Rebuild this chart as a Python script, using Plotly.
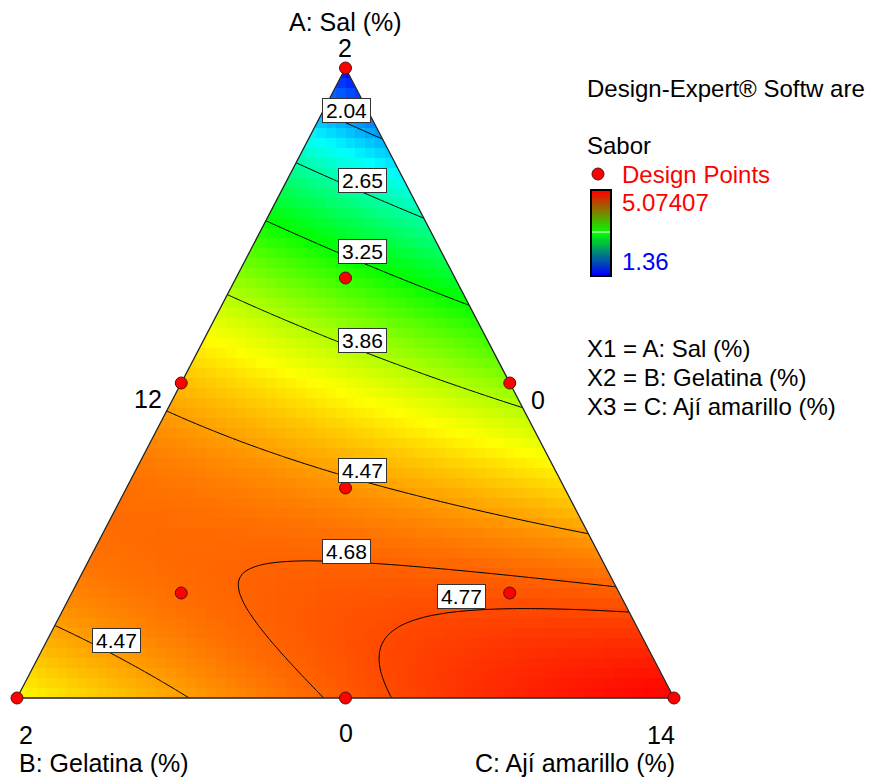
import numpy as np
import plotly.graph_objects as go

# ---------------------------------------------------------------------------
# Mixture design: Sal + Gelatina + Ají amarillo = 14 %
# ---------------------------------------------------------------------------
components = ["A: Sal (%)", "B: Gelatina (%)", "C: Ají amarillo (%)"]
comp_low = [0, 0, 12]
comp_high = [2, 2, 14]
mix_total = 14

# Design points (actual %)
design_A = [2, 0, 0, 1, 1, 0, 0.6667, 1.3333, 0.3333, 0.3333]
design_B = [0, 2, 0, 1, 0, 1, 0.6667, 0.3333, 1.3333, 0.3333]
design_C = [12, 12, 14, 12, 13, 13, 12.6667, 12.3333, 12.3333, 13.3333]

# Scheffé quadratic model for Sabor (L-pseudo components)
linear_coef = [1.44, 4.14, 5.03]   # A, B, C
inter_AB = 6.29
inter_AC = 1.95
inter_BC = 0.50

response_name = "Sabor"
response_range = [1.36, 5.07407]   # observed min / max

contour_levels = [2.04, 2.65, 3.25, 3.86, 4.47, 4.68, 4.77]
label_levels = [2.04, 2.65, 3.25, 3.86, 4.47, 4.68, 4.77, 4.47]
# label box centres (pixel position on the page)
label_px = [(346, 110), (362, 180), (362, 251), (362, 340), (362, 470),
            (346, 551), (461, 596), (116, 640)]

FONT = "Liberation Sans, Arial, sans-serif"
W, H = 879, 783
# triangle placement on the page (pixels): B at left, C at right, A at top
X0, XSPAN = 17.0, 657.0
Y0, YSPAN = 698.0, 630.0


def pseudo(a, b, c):
    span = mix_total - sum(comp_low)
    return ((np.asarray(a) - comp_low[0]) / span,
            (np.asarray(b) - comp_low[1]) / span,
            (np.asarray(c) - comp_low[2]) / span)


def to_xy(x1, x2, x3):
    x1 = np.asarray(x1, dtype=float)
    x3 = np.asarray(x3, dtype=float)
    return x3 + x1 / 2.0, x1


def from_xy(X, Y):
    x1 = Y
    x3 = X - Y / 2.0
    return x1, 1.0 - x1 - x3, x3


def model(x1, x2, x3):
    b1, b2, b3 = linear_coef
    return (b1 * x1 + b2 * x2 + b3 * x3 + inter_AB * x1 * x2
            + inter_AC * x1 * x3 + inter_BC * x2 * x3)


def px(xp, yp):
    return (xp - X0) / XSPAN, (Y0 - yp) / YSPAN


# colour range = predicted range over the simplex
gx, gy = np.meshgrid(np.linspace(0, 1, 201), np.linspace(0, 1, 201))
g1, g2, g3 = from_xy(gx, gy)
inside = np.minimum(np.minimum(g1, g2), g3) >= -1e-9
zin = model(g1, g2, g3)[inside]
zmin, zmax = float(zin.min()), float(zin.max())

de_scale = [[0.0, "#0000ff"], [0.25, "#00ffff"], [0.5, "#00ff00"],
            [0.75, "#ffff00"], [1.0, "#ff0000"]]

fig = go.Figure()

# coarse coloured cells
nx, ny = 66, 63
xc = np.round((np.arange(nx) + 0.5) / nx, 5)
yc = np.round((np.arange(ny) + 0.5) / ny, 5)
CX, CY = np.meshgrid(xc, yc)
c1, c2, c3 = from_xy(CX, CY)
zc = np.round(model(c1, c2, c3), 4)
zc[np.minimum(np.minimum(c1, c2), c3) < -0.02] = np.nan
fig.add_trace(go.Heatmap(x=xc, y=yc, z=zc, colorscale=de_scale, zmin=zmin,
                         zmax=zmax, showscale=False, hoverinfo="skip",
                         zsmooth=False))

# contour lines
fx = np.round(np.linspace(-0.05, 1.05, 161), 5)
fy = np.round(np.linspace(-0.05, 1.05, 161), 5)
FX, FY = np.meshgrid(fx, fy)
f1, f2, f3 = from_xy(FX, FY)
zf = np.round(model(f1, f2, f3), 4)
zf[np.minimum(np.minimum(f1, f2), f3) < -0.03] = np.nan
for lvl in contour_levels:
    fig.add_trace(go.Contour(
        x=fx, y=fy, z=zf, showscale=False, hoverinfo="skip",
        contours=dict(start=lvl, end=lvl, size=1, coloring="none"),
        line=dict(color="black", width=1)))

# white band around the simplex to trim the cells at its edges
w = 0.05
V = {"A": (1, 0, 0), "B": (0, 1, 0), "C": (0, 0, 1),
     "A'": (1 + 2 * w, -w, -w), "B'": (-w, 1 + 2 * w, -w),
     "C'": (-w, -w, 1 + 2 * w)}
for quad in (["A", "B", "B'", "A'"], ["B", "C", "C'", "B'"],
             ["C", "A", "A'", "C'"]):
    qx, qy = to_xy([V[k][0] for k in quad], [V[k][1] for k in quad],
                   [V[k][2] for k in quad])
    fig.add_trace(go.Scatter(x=list(qx) + [qx[0]], y=list(qy) + [qy[0]],
                             fill="toself", fillcolor="white", mode="lines",
                             line=dict(color="white", width=0.5),
                             hoverinfo="skip", showlegend=False))

# simplex outline
tx, ty = to_xy([1, 0, 0, 1], [0, 1, 0, 0], [0, 0, 1, 0])
fig.add_trace(go.Scatter(x=tx, y=ty, mode="lines",
                         line=dict(color="#222222", width=1.3),
                         hoverinfo="skip", showlegend=False))

# design points
d1, d2, d3 = pseudo(design_A, design_B, design_C)
dx, dy = to_xy(d1, d2, d3)
dot = dict(color="#ff0000", size=12, line=dict(color="#551111", width=1))
fig.add_trace(go.Scatter(x=dx, y=dy, mode="markers", marker=dot,
                         hoverinfo="skip", showlegend=False))

# legend marker for design points
lx, ly = px(598, 174)
fig.add_trace(go.Scatter(x=[lx], y=[ly], mode="markers", marker=dot,
                         hoverinfo="skip", showlegend=False))

# legend gradient bar
grad = np.round(np.linspace(response_range[0], response_range[1], 80), 4)
fig.add_trace(go.Heatmap(x=[0], y=grad, z=grad.reshape(-1, 1),
                         colorscale=[[0, "#0000ff"], [0.5, "#00ff00"],
                                     [1, "#ff0000"]],
                         showscale=False, hoverinfo="skip",
                         xaxis="x2", yaxis="y2"))

annotations = []


def text(xp, yp, s, size=24, color="black", anchor="center"):
    x, y = px(xp, yp)
    annotations.append(dict(x=x, y=y, xref="x", yref="y", text=s,
                            showarrow=False, xanchor=anchor, yanchor="middle",
                            font=dict(family=FONT, size=size, color=color)))


# contour labels
for lvl, (lxp, lyp) in zip(label_levels, label_px):
    x, y = px(lxp, lyp)
    annotations.append(dict(x=x, y=y, xref="x", yref="y", text=f"{lvl:.2f}",
                            showarrow=False, xanchor="center",
                            yanchor="middle", bgcolor="white",
                            bordercolor="#333333", borderwidth=1,
                            borderpad=0, width=47, height=23,
                            font=dict(family=FONT, size=21, color="black")))

# component titles and range labels
text(345, 22, components[0], size=25)
text(345, 48, f"{comp_high[0]:g}", size=25)
text(346, 733, f"{comp_low[0]:g}", size=25)
text(26, 735, f"{comp_high[1]:g}", size=25)
text(538, 400, f"{comp_low[1]:g}", size=25)
text(661, 735, f"{comp_high[2]:g}", size=25)
text(148, 399, f"{comp_low[2]:g}", size=25)
text(17, 763, components[1], size=25, anchor="left")
text(677, 763, components[2], size=25, anchor="right")

# side legend
text(585, 88, "Design-Expert® Softw are", anchor="left")
text(585, 145, response_name, anchor="left")
text(620, 174, "Design Points", color="#ff0000", anchor="left")
text(620, 202, f"{response_range[1]:g}", color="#ff0000", anchor="left")
text(620, 261, f"{response_range[0]:g}", color="#0000ff", anchor="left")
for i, (yp, name) in enumerate(zip([348, 377, 406], components)):
    text(585, yp, f"X{i + 1} = {name}", anchor="left")

shapes = [
    dict(type="rect", xref="paper", yref="paper", x0=591 / W, x1=611 / W,
         y0=1 - 276 / H, y1=1 - 190 / H, line=dict(color="black", width=2)),
    dict(type="line", xref="paper", yref="paper", x0=592 / W, x1=610 / W,
         y0=1 - 232 / H, y1=1 - 232 / H, line=dict(color="white", width=1)),
]

xr = [(0 - X0) / XSPAN, (W - X0) / XSPAN]
yr = [(Y0 - H) / YSPAN, Y0 / YSPAN]
fig.update_layout(
    width=W, height=H, margin=dict(l=0, r=0, t=0, b=0),
    paper_bgcolor="white", plot_bgcolor="white", showlegend=False,
    xaxis=dict(range=xr, visible=False, fixedrange=True),
    yaxis=dict(range=yr, visible=False, fixedrange=True),
    xaxis2=dict(domain=[592 / W, 610 / W], range=[-0.5, 0.5], visible=False,
                fixedrange=True, anchor="y2"),
    yaxis2=dict(domain=[1 - 275 / H, 1 - 191 / H],
                range=[response_range[0], response_range[1]], visible=False,
                fixedrange=True, anchor="x2"),
    annotations=annotations, shapes=shapes,
)

fig.write_html("out.html", config={"displayModeBar": False})
